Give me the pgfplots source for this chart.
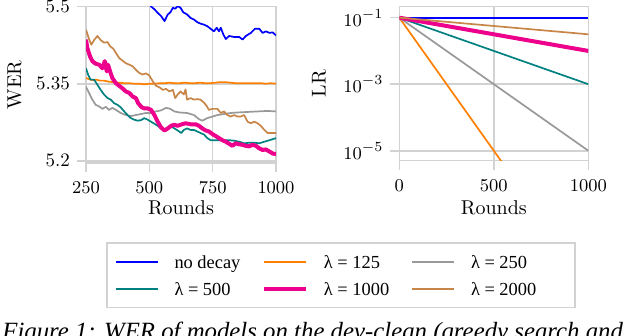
\documentclass[border=0pt]{standalone}
\usepackage{pgfplots}
\pgfplotsset{compat=1.18}
\usepackage{fontspec}
\newfontfamily\legfont{Liberation Serif}

\definecolor{cblue}{RGB}{0,0,255}
\definecolor{corange}{RGB}{255,127,0}
\definecolor{cgray}{RGB}{153,153,153}
\definecolor{cteal}{RGB}{0,128,128}
\definecolor{cpink}{RGB}{236,0,140}
\definecolor{cbrown}{RGB}{200,133,72}
\definecolor{gridc}{RGB}{210,210,210}

\pgfplotsset{
  myax/.style={
    scale only axis, anchor=south west,
    axis line style={gridc, line width=0.8pt},
    grid=major, major grid style={gridc, line width=0.8pt},
    tick align=outside, tick pos=left, major tick length=4.5pt,
    tick style={gridc, line width=0.8pt},
    tick label style={font=\fontsize{9.5}{11}\selectfont},
    xticklabel style={yshift=-1.5pt},
    /pgf/number format/1000 sep={},
    label style={font=\fontsize{10}{12}\selectfont},
  },
  every axis plot/.append style={line width=0.85pt, line join=round},
}

\begin{document}
\begin{tikzpicture}[x=1pt,y=1pt]
\begin{axis}[myax,
  at={(43pt,86.35pt)}, width=95pt, height=78.3pt,
  xmin=250, xmax=1000, ymin=5.195, ymax=5.5,
  xtick={250,500,750,1000},
  ytick={5.2,5.35,5.5}, yticklabels={5.2,5.35,5.5},
  xlabel={Rounds}, ylabel={WER},
  xlabel style={at={(axis description cs:0.5,-0.33)}, anchor=base},
  ylabel style={at={(axis description cs:-0.376,0.5)}, anchor=center},
  legend columns=3,
  legend image code/.code={\draw[#1, line cap=butt] (0pt,0pt) -- (21pt,0pt);},
  legend style={at={(axis description cs:0.1053,-0.5051)}, anchor=north west,
    draw=gridc, line width=0.8pt, font=\legfont\fontsize{9.2}{11}\selectfont,
    inner xsep=4pt, inner ysep=4pt, row sep=2.8pt,
    nodes={inner xsep=0pt, inner ysep=0.75pt}},
  legend cell align=left,
]
\addplot[cblue] coordinates {(490,5.510)(508,5.500)(520,5.495)(533,5.488)(546,5.482)(560,5.472)(573,5.485)(583,5.489)(593,5.498)(602,5.496)(612,5.501)(623,5.498)(634,5.489)(649,5.485)(663,5.478)(676,5.475)(689,5.470)(702,5.467)(716,5.465)(729,5.462)(742,5.457)(755,5.452)(766,5.459)(775,5.452)(782,5.459)(792,5.446)(802,5.437)(815,5.443)(835,5.441)(855,5.441)(868,5.436)(881,5.443)(901,5.449)(917,5.457)(934,5.457)(947,5.449)(960,5.452)(974,5.449)(987,5.450)(1000,5.444)};
\addlegendentry{\makebox[51.7pt][l]{\hspace{8pt}\strut no decay}}
\addplot[corange] coordinates {(250,5.361)(262,5.359)(275,5.357)(290,5.358)(305,5.356)(320,5.356)(340,5.354)(360,5.353)(380,5.352)(400,5.351)(420,5.351)(440,5.350)(460,5.350)(480,5.349)(500,5.350)(520,5.350)(540,5.351)(560,5.351)(580,5.352)(600,5.351)(620,5.351)(640,5.352)(660,5.351)(680,5.351)(700,5.352)(720,5.351)(740,5.351)(760,5.352)(780,5.353)(800,5.353)(820,5.352)(840,5.351)(860,5.351)(880,5.351)(900,5.351)(920,5.351)(940,5.351)(960,5.350)(980,5.351)(1000,5.350)};
\addlegendentry{\makebox[51.7pt][l]{\hspace{8pt}\strut λ = 125}}
\addplot[cgray] coordinates {(250,5.344)(262,5.332)(275,5.319)(288,5.309)(301,5.306)(315,5.301)(328,5.305)(341,5.299)(354,5.303)(368,5.299)(387,5.293)(407,5.289)(427,5.287)(447,5.289)(467,5.291)(487,5.293)(507,5.293)(526,5.296)(546,5.298)(566,5.303)(583,5.301)(599,5.296)(619,5.294)(649,5.293)(676,5.289)(696,5.281)(709,5.278)(729,5.283)(749,5.286)(769,5.289)(795,5.291)(821,5.293)(848,5.294)(888,5.295)(927,5.296)(967,5.297)(1000,5.296)};
\addlegendentry{\makebox[56pt][l]{\hspace{8pt}\strut λ = 250}}
\addplot[cteal] coordinates {(250,5.380)(258,5.368)(268,5.358)(282,5.358)(295,5.348)(308,5.338)(321,5.329)(335,5.322)(348,5.319)(361,5.312)(374,5.309)(387,5.304)(401,5.296)(414,5.289)(427,5.283)(440,5.280)(454,5.278)(467,5.279)(480,5.283)(493,5.280)(507,5.276)(520,5.272)(533,5.268)(546,5.263)(560,5.260)(573,5.263)(586,5.267)(599,5.263)(612,5.259)(626,5.254)(636,5.260)(649,5.263)(663,5.260)(676,5.260)(689,5.257)(702,5.254)(716,5.251)(729,5.244)(742,5.240)(755,5.240)(775,5.240)(795,5.240)(815,5.240)(835,5.239)(855,5.237)(874,5.234)(894,5.235)(914,5.235)(934,5.234)(954,5.237)(974,5.240)(987,5.242)(1000,5.244)};
\addlegendentry{\makebox[51.7pt][l]{\hspace{8pt}\strut λ = 500}}
\addplot[cpink, line width=2pt] coordinates {(250,5.436)(255,5.420)(266,5.403)(275,5.394)(288,5.389)(302,5.387)(315,5.380)(324,5.394)(332,5.374)(337,5.387)(345,5.374)(354,5.361)(368,5.351)(381,5.346)(394,5.341)(407,5.335)(421,5.332)(434,5.325)(447,5.322)(456,5.312)(470,5.304)(480,5.302)(493,5.302)(507,5.299)(520,5.289)(533,5.276)(546,5.265)(560,5.259)(573,5.263)(586,5.268)(599,5.270)(612,5.268)(623,5.270)(643,5.273)(663,5.271)(683,5.271)(696,5.268)(709,5.263)(722,5.259)(735,5.257)(749,5.252)(762,5.248)(775,5.244)(788,5.240)(802,5.237)(815,5.233)(828,5.229)(841,5.234)(855,5.232)(868,5.231)(881,5.229)(894,5.228)(907,5.231)(921,5.229)(934,5.224)(947,5.221)(960,5.222)(974,5.218)(987,5.214)(1000,5.213)};
\addlegendentry{\makebox[51.7pt][l]{\hspace{8pt}\strut λ = 1000}}
\addplot[cbrown] coordinates {(250,5.455)(262,5.437)(271,5.426)(282,5.435)(295,5.443)(308,5.435)(321,5.430)(335,5.431)(345,5.423)(358,5.418)(368,5.410)(381,5.400)(394,5.395)(407,5.390)(421,5.387)(434,5.384)(447,5.377)(460,5.371)(473,5.368)(487,5.370)(500,5.366)(513,5.355)(526,5.346)(540,5.343)(553,5.338)(566,5.340)(579,5.335)(593,5.338)(602,5.322)(612,5.329)(623,5.335)(636,5.329)(643,5.339)(649,5.319)(663,5.322)(676,5.319)(689,5.320)(702,5.319)(716,5.313)(726,5.307)(735,5.299)(749,5.301)(769,5.301)(782,5.293)(795,5.296)(808,5.289)(821,5.286)(835,5.289)(848,5.286)(861,5.286)(874,5.289)(888,5.276)(901,5.273)(914,5.276)(927,5.273)(940,5.268)(954,5.260)(967,5.254)(980,5.254)(1000,5.254)};
\addlegendentry{\makebox[56pt][l]{\hspace{8pt}\strut λ = 2000}}
\end{axis}

\begin{axis}[myax, ymode=log,
  at={(199.65pt,87.65pt)}, width=94.5pt, height=77pt,
  xmin=0, xmax=1000, ymin=5.01e-6, ymax=0.2138,
  xtick={0,500,1000}, ytick={1e-1,1e-3,1e-5}, yminorticks=false,
  xlabel={Rounds}, ylabel={LR},
  xlabel style={at={(axis description cs:0.5,-0.3526)}, anchor=base},
  ylabel style={at={(axis description cs:-0.425,0.5)}, anchor=center},
]
\addplot[cblue] coordinates {(0,0.1)(1000,0.1)};
\addplot[corange] coordinates {(0,0.1)(1000,1e-9)};
\addplot[cgray] coordinates {(0,0.1)(1000,1e-5)};
\addplot[cteal] coordinates {(0,0.1)(1000,1e-3)};
\addplot[cpink, line width=2pt] coordinates {(0,0.1)(1000,0.01)};
\addplot[cbrown] coordinates {(0,0.1)(1000,0.0316)};
\end{axis}

\node[anchor=base west, inner sep=0pt, font=\legfont\itshape\fontsize{12.4}{14}\selectfont] at (1pt,-1.7pt)
  {Figure 1: WER of models on the dev-clean (greedy search and rescoring with};

\pgfresetboundingbox
\useasboundingbox (0pt,0pt) rectangle (315pt,168pt);
\end{tikzpicture}
\end{document}
